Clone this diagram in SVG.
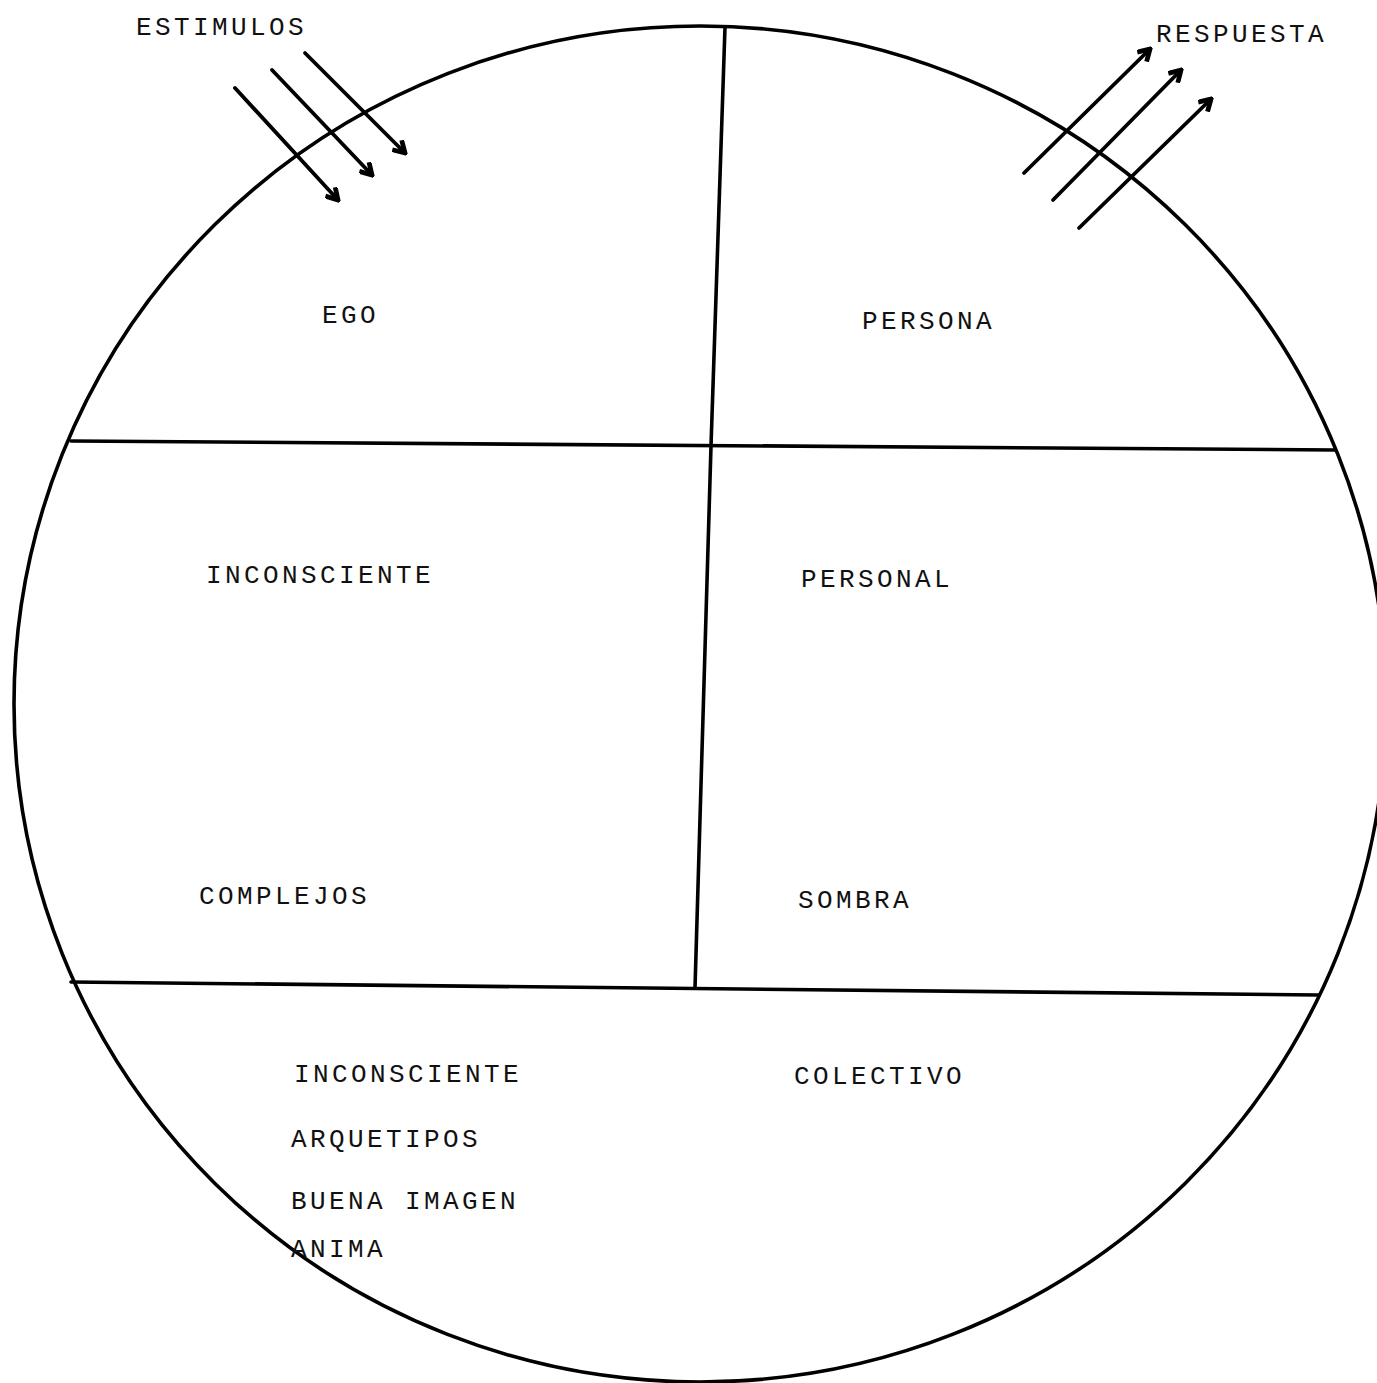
<svg xmlns="http://www.w3.org/2000/svg" width="1377" height="1383" viewBox="0 0 1377 1383">
<style>
.ln{fill:none;stroke:#000;stroke-width:3.6;stroke-linecap:round}
.ar{fill:none;stroke:#000;stroke-width:3.8;stroke-linecap:round}
.t{font-family:"Liberation Mono","DejaVu Sans Mono",monospace;font-size:26px;letter-spacing:3.4px;fill:#111}
</style>
<defs>
<marker id="ah" viewBox="0 0 12 12" refX="10" refY="6" markerWidth="16" markerHeight="16" markerUnits="userSpaceOnUse" orient="auto">
<path d="M1.5,1 L10,6 L1.5,11" fill="none" stroke="#000" stroke-width="3.6" stroke-linejoin="miter"/>
</marker>
</defs>
<rect width="1377" height="1383" fill="#fff"/>
<g id="frame">
<ellipse class="ln" cx="700" cy="704" rx="686" ry="678"/>
<polyline class="ln" points="725,27 711,446 695,988"/>
<line class="ln" x1="71" y1="441" x2="1335" y2="450"/>
<line class="ln" x1="71" y1="982" x2="1318" y2="995"/>
</g>
<g id="ego"><text class="t" x="322" y="323">EGO</text></g>
<g id="persona"><text class="t" x="862" y="329">PERSONA</text></g>
<g id="inconsciente-personal-left"><text class="t" x="206" y="583">INCONSCIENTE</text><text class="t" x="199" y="904">COMPLEJOS</text></g>
<g id="inconsciente-personal-right"><text class="t" x="801" y="587">PERSONAL</text><text class="t" x="798" y="908">SOMBRA</text></g>
<g id="inconsciente-colectivo">
<text class="t" x="294" y="1082">INCONSCIENTE</text>
<text class="t" x="794" y="1084">COLECTIVO</text>
<text class="t" x="291" y="1147">ARQUETIPOS</text>
<text class="t" x="291" y="1209">BUENA IMAGEN</text>
<text class="t" x="291" y="1257">ANIMA</text>
</g>
<g id="estimulos"><text class="t" x="136" y="35">ESTIMULOS</text></g>
<g id="respuesta"><text class="t" x="1156" y="42">RESPUESTA</text></g>
<g id="connectors">
<line class="ar" x1="235" y1="88" x2="338" y2="200" marker-end="url(#ah)"/>
<line class="ar" x1="272" y1="70" x2="372" y2="175" marker-end="url(#ah)"/>
<line class="ar" x1="305" y1="53" x2="405" y2="153" marker-end="url(#ah)"/>
<line class="ar" x1="1024" y1="173" x2="1150" y2="49" marker-end="url(#ah)"/>
<line class="ar" x1="1053" y1="200" x2="1181" y2="70" marker-end="url(#ah)"/>
<line class="ar" x1="1079" y1="228" x2="1211" y2="99" marker-end="url(#ah)"/>
</g>
</svg>
